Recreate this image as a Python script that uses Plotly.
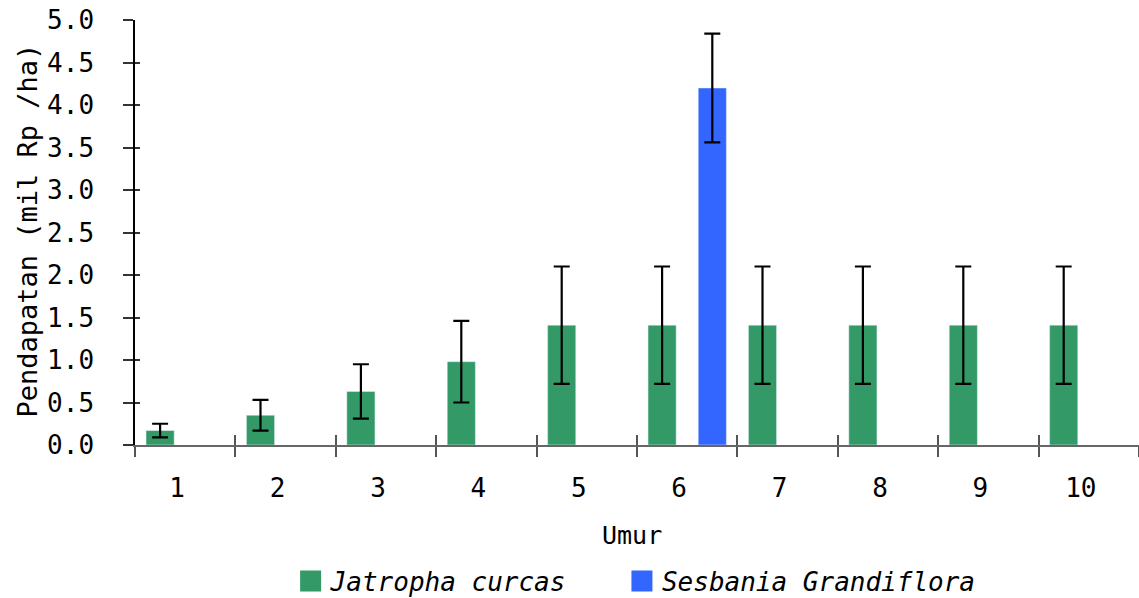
import plotly.graph_objects as go

# Income per hectare by plantation age (umur), with error bars
umur = ["1", "2", "3", "4", "5", "6", "7", "8", "9", "10"]
jatropha = [0.17, 0.35, 0.63, 0.98, 1.41, 1.41, 1.41, 1.41, 1.41, 1.41]
jatropha_err = [0.08, 0.18, 0.32, 0.48, 0.69, 0.69, 0.69, 0.69, 0.69, 0.69]
sesbania = [None, None, None, None, None, 4.20, None, None, None, None]
sesbania_err = [0, 0, 0, 0, 0, 0.64, 0, 0, 0, 0]

y_ticks = [0.0, 0.5, 1.0, 1.5, 2.0, 2.5, 3.0, 3.5, 4.0, 4.5, 5.0]

GREEN = "#339966"
BLUE = "#3366FF"
MONO = "DejaVu Sans Mono, Liberation Mono, monospace"

fig = go.Figure()

err_style = dict(type="data", visible=True, color="black", thickness=2.2, width=8)

fig.add_trace(go.Bar(
    name="Jatropha curcas", x=umur, y=jatropha, marker_color=GREEN,
    error_y=dict(array=jatropha_err, **err_style), showlegend=False,
))
fig.add_trace(go.Bar(
    name="Sesbania Grandiflora", x=umur, y=sesbania, marker_color=BLUE,
    error_y=dict(array=sesbania_err, **err_style), showlegend=False,
))

# Legend entries with larger square swatches, one legend box per series
for name, col, lg in [("Jatropha curcas", GREEN, "legend"),
                      ("Sesbania Grandiflora", BLUE, "legend2")]:
    fig.add_trace(go.Scatter(
        x=[None], y=[None], mode="markers", name=name, legend=lg,
        marker=dict(symbol="square", size=16, color=col,
                    line=dict(color=col, width=5)),
        hoverinfo="skip",
    ))

# Overlay axes supply the inward half of the crossing tick marks
fig.add_trace(go.Scatter(x=[None], y=[None], xaxis="x2", yaxis="y2",
                         showlegend=False, hoverinfo="skip"))

legend_style = dict(
    orientation="h", xanchor="left", y=-0.32, yanchor="middle",
    font=dict(family=MONO, size=26, color="black", style="italic"),
    itemsizing="trace", bgcolor="rgba(0,0,0,0)",
)

fig.update_layout(
    width=1139, height=598, autosize=False,
    margin=dict(l=135, r=0, t=20, b=153, autoexpand=False),
    paper_bgcolor="white", plot_bgcolor="white",
    barmode="group", bargap=0.0, bargroupgap=0.44,
    xaxis=dict(
        type="category", categoryorder="array", categoryarray=umur,
        tickson="boundaries", ticks="outside", ticklen=10, tickwidth=1.5,
        tickcolor="#555", showline=True, linecolor="#666", linewidth=2,
        showgrid=False, zeroline=False, automargin=False,
        tickfont=dict(family=MONO, size=26, color="black"),
        ticklabelstandoff=19, ticklabelshift=-8,
    ),
    yaxis=dict(
        range=[0, 5], tickvals=y_ticks, tickformat=".1f",
        ticks="outside", ticklen=10, tickwidth=1.5, tickcolor="#333",
        showline=True, linecolor="black", linewidth=1.5,
        showgrid=False, zeroline=False, automargin=False,
        tickfont=dict(family=MONO, size=26, color="black"),
        ticklabelstandoff=24,
    ),
    xaxis2=dict(
        overlaying="x", anchor="y2", side="bottom", range=[-0.5, 9.5],
        tickvals=[i - 0.5 for i in range(11)], ticks="inside", ticklen=10,
        tickwidth=1.5, tickcolor="#555", showticklabels=False,
        showline=False, showgrid=False, zeroline=False,
    ),
    yaxis2=dict(
        overlaying="y", anchor="x2", side="left", range=[0, 5],
        tickvals=y_ticks, ticks="inside", ticklen=5, tickwidth=1.5,
        tickcolor="#333", showticklabels=False, showline=False,
        showgrid=False, zeroline=False,
    ),
    legend=dict(x=0.155, **legend_style),
    legend2=dict(x=0.485, **legend_style),
    annotations=[
        dict(text="Pendapatan (mil Rp /ha)", textangle=-90, showarrow=False,
             xref="paper", yref="paper", x=-0.107, y=0.059,
             xanchor="center", yanchor="bottom",
             font=dict(family=MONO, size=27, color="black")),
        dict(text="Umur", showarrow=False, xref="paper", yref="paper",
             x=0.495, y=-0.212, xanchor="center", yanchor="middle",
             font=dict(family=MONO, size=25, color="black")),
    ],
)

fig.write_html("out.html")
